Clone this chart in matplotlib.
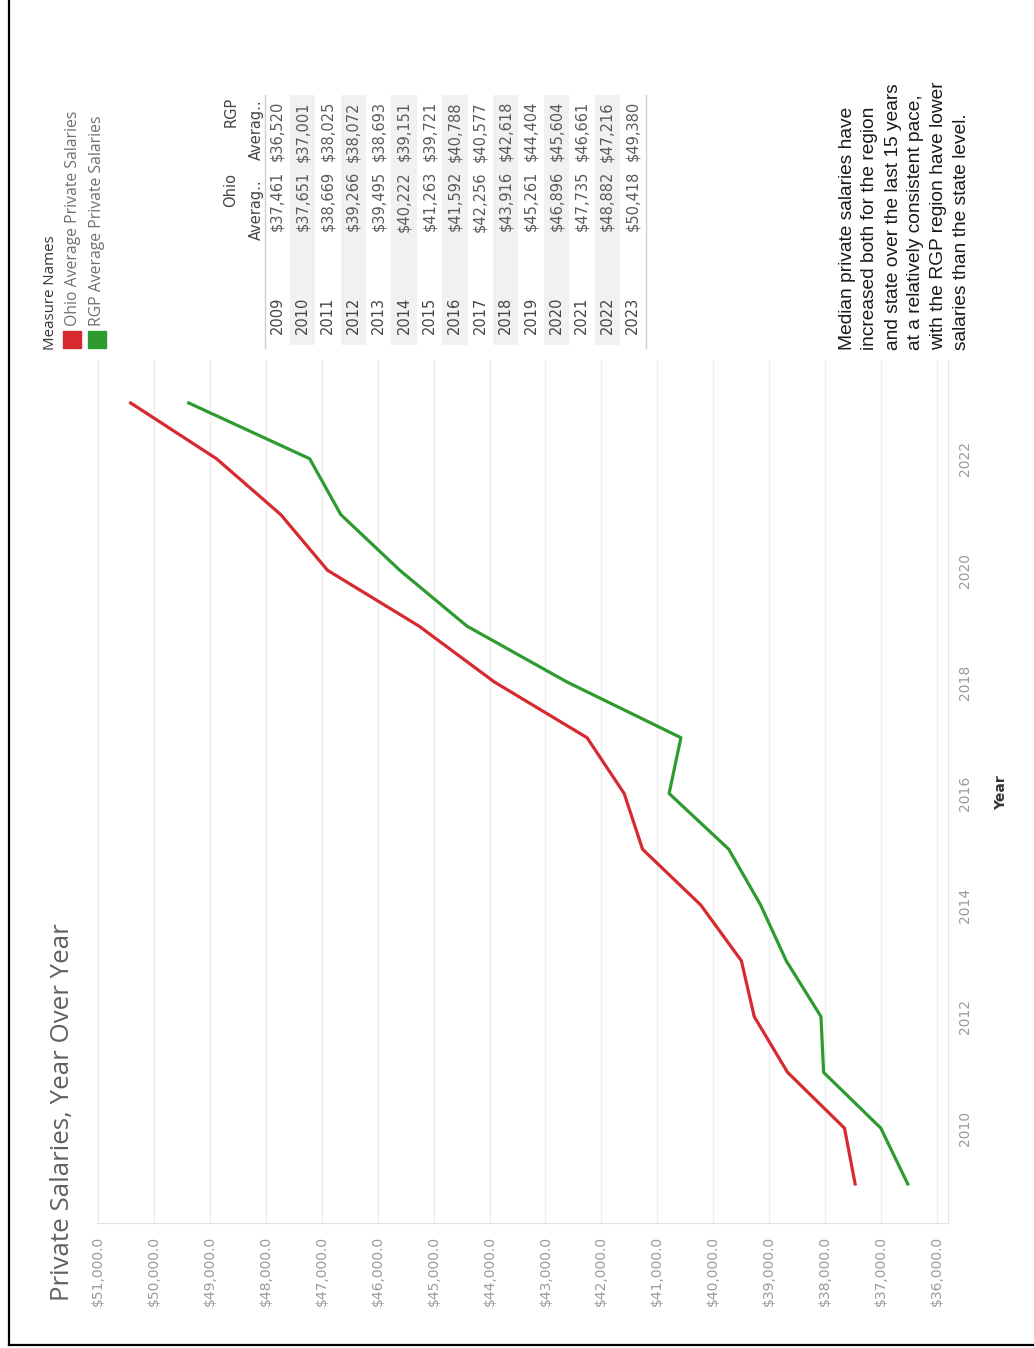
import matplotlib
matplotlib.use("Agg")
import matplotlib.pyplot as plt
from matplotlib.lines import Line2D
from matplotlib.patches import Rectangle

years = [2009, 2010, 2011, 2012, 2013, 2014, 2015, 2016, 2017, 2018, 2019, 2020, 2021, 2022, 2023]
ohio = [37461, 37651, 38669, 39266, 39495, 40222, 41263, 41592, 42256, 43916, 45261, 46896, 47735, 48882, 50418]
rgp = [36520, 37001, 38025, 38072, 38693, 39151, 39721, 40788, 40577, 42618, 44404, 45604, 46661, 47216, 49380]
salary_ticks = list(range(36000, 51001, 1000))
year_ticks = [2010, 2012, 2014, 2016, 2018, 2020, 2022]

W, H = 1034, 1348
RED = "#d62a2f"
GREEN = "#2e9b30"


def fx(x):
    return x / W


def fy(y):
    return 1 - y / H


def rtext(x, y, s, ha="left", **kw):
    # text turned 90 degrees, anchored at its start/end/center along the reading direction
    fig.text(fx(x), fy(y), s, rotation=90, rotation_mode="anchor",
             ha=ha, va="center", **kw)


fig = plt.figure(figsize=(W / 100, H / 100), dpi=100)

# frame lines of the scanned page
fig.add_artist(Line2D([fx(9), fx(9)], [fy(0), fy(1345)], color="black", lw=1.6))
fig.add_artist(Line2D([fx(9), 1], [fy(1345), fy(1345)], color="black", lw=1.6))

# main chart (rotated: salary runs right-to-left, years bottom-to-top)
ax = fig.add_axes([fx(97), fy(1223), fx(948) - fx(97), fy(360) - fy(1223)])
ax.plot(ohio, years, color=RED, lw=2.3)
ax.plot(rgp, years, color=GREEN, lw=2.3)
ax.set_xlim(51020, 35800)
ax.set_ylim(2008.3, 2023.77)

ax.set_xticks(salary_ticks)
ax.set_xticklabels([f"${v:,.1f}" for v in salary_ticks])
ax.tick_params(axis="x", length=0, pad=9, labelrotation=90, labelcolor="#9a9a9a",
               labelsize=10)
ax.yaxis.tick_right()
ax.set_yticks(year_ticks)
ax.set_yticklabels([str(y) for y in year_ticks], va="center")
ax.tick_params(axis="y", length=0, pad=7, labelrotation=90, labelcolor="#9a9a9a",
               labelsize=10)
ax.grid(axis="x", color="#ececec", lw=1)
ax.set_axisbelow(True)
for s in ["top", "left"]:
    ax.spines[s].set_visible(False)
for s in ["bottom", "right"]:
    ax.spines[s].set_color("#e2e2e2")

rtext(1001, 793, "Year", ha="center", fontsize=10, color="#333333", fontweight="semibold")

# title
rtext(63, 1301, "Private Salaries, Year Over Year", fontsize=18.6, color="#606060",
      family="Open Sans")

# legend
rtext(50, 350, "Measure Names", fontsize=10.8, color="#333333", family="Open Sans")
fig.add_artist(Rectangle((fx(63), fy(348)), fx(18), 17 / H, color=RED))
fig.add_artist(Rectangle((fx(88), fy(348)), fx(18), 17 / H, color=GREEN))
rtext(73, 326, "Ohio Average Private Salaries", fontsize=11.3, color="#707070",
      family="Open Sans")
rtext(97, 326, "RGP Average Private Salaries", fontsize=11.3, color="#707070",
      family="Open Sans")

# table
row_x0, row_dx = 277, 25.4
for i, y in enumerate(years):
    x = row_x0 + i * row_dx
    if i % 2 == 1:
        fig.add_artist(Rectangle((fx(x - row_dx / 2), fy(345)), row_dx / W, 250 / H,
                                 color="#f1f1f1", lw=0))
    rtext(x, 334, str(y), fontsize=10.5, color="#444444")
    rtext(x, 171, f"${ohio[i]:,}", ha="right", fontsize=10.5, color="#5a5a5a")
    rtext(x, 101, f"${rgp[i]:,}", ha="right", fontsize=10.5, color="#5a5a5a")
fig.add_artist(Line2D([fx(265), fx(265)], [fy(95), fy(348)], color="#cfcfcf", lw=1))
fig.add_artist(Line2D([fx(646), fx(646)], [fy(95), fy(348)], color="#cfcfcf", lw=1))
rtext(231, 190, "Ohio", ha="center", fontsize=10.5, color="#444444")
rtext(231, 112, "RGP", ha="center", fontsize=10.5, color="#444444")
rtext(256, 240, "Averag..", fontsize=10.5, color="#444444")
rtext(256, 160, "Averag..", fontsize=10.5, color="#444444")

# note
note = ["Median private salaries have",
        "increased both for the region",
        "and state over the last 15 years",
        "at a relatively consistent pace,",
        "with the RGP region have lower",
        "salaries than the state level."]
for i, line in enumerate(note):
    rtext(847 + i * 23, 350, line, fontsize=13.8, color="#1a1a1a", family="Liberation Sans")

fig.savefig("out.png", dpi=100)
